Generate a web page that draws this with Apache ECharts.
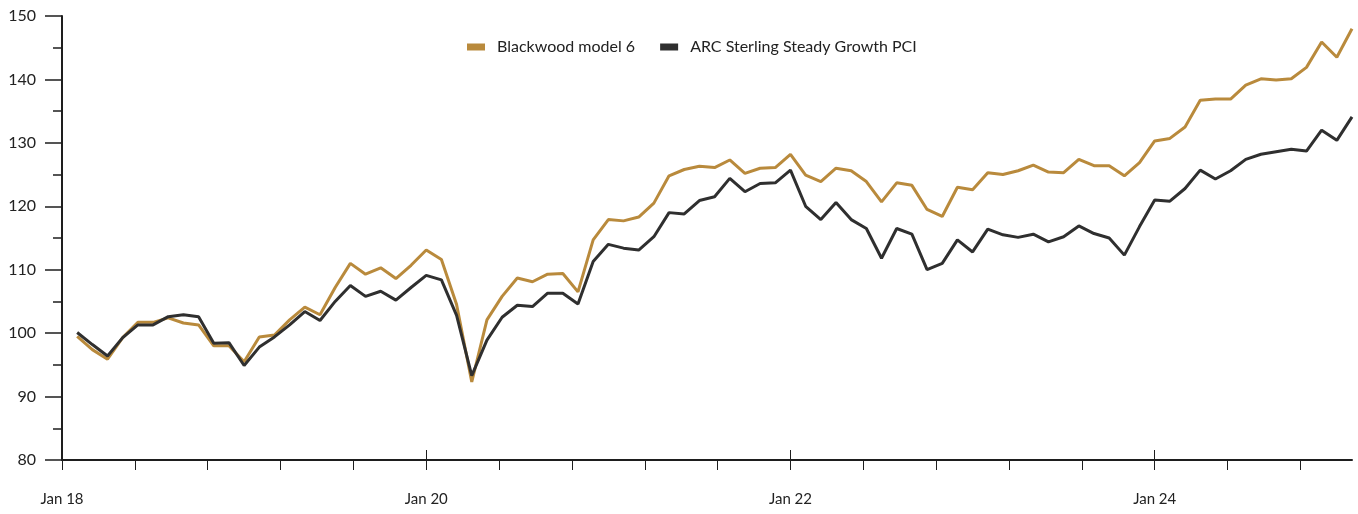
<!DOCTYPE html>
<html>
<head>
<meta charset="utf-8">
<script src="https://cdn.jsdelivr.net/npm/echarts@6/dist/echarts.min.js"></script>
<style>
html,body{margin:0;padding:0;background:#fff;}
#chart{width:1358px;height:514px;}
</style>
</head>
<body>
<div id="chart"></div>
<script>
// Monthly index values (month 1 = first month after Jan 18)
var blackwood = [99.5,97.4,95.9,99.3,101.7,101.7,102.4,101.6,101.3,98.0,98.0,95.5,99.4,99.7,102.1,104.1,102.9,107.2,111.0,109.3,110.3,108.6,110.7,113.1,111.6,104.5,92.3,102.1,105.8,108.7,108.1,109.3,109.4,106.5,114.7,117.9,117.7,118.3,120.5,124.8,125.8,126.3,126.1,127.3,125.2,126.0,126.1,128.2,124.9,123.9,126.0,125.6,123.9,120.7,123.7,123.3,119.5,118.4,123.0,122.6,125.3,125.0,125.6,126.5,125.4,125.3,127.4,126.4,126.4,124.8,126.9,130.3,130.7,132.5,136.7,136.9,136.9,139.1,140.1,139.9,140.1,141.9,145.9,143.5,148.0];
var arcSteady = [100.1,98.2,96.4,99.3,101.3,101.3,102.6,102.9,102.6,98.4,98.5,94.9,97.8,99.4,101.3,103.4,102.0,105.0,107.5,105.8,106.6,105.2,107.2,109.1,108.4,102.8,93.3,98.9,102.5,104.4,104.2,106.3,106.3,104.6,111.3,114.0,113.4,113.1,115.2,119.0,118.8,120.9,121.5,124.4,122.3,123.6,123.7,125.7,120.0,117.9,120.6,117.9,116.5,111.8,116.5,115.6,110.0,111.0,114.7,112.8,116.4,115.5,115.1,115.6,114.4,115.2,116.9,115.7,115.0,112.3,116.8,121.0,120.8,122.8,125.7,124.3,125.6,127.4,128.2,128.6,129.0,128.7,132.0,130.4,134.1];
var seriesNames = ['Blackwood model 6', 'ARC Sterling Steady Growth PCI'];
var xTickValues = [0,4.8,9.6,14.4,19.2,24,28.8,33.6,38.4,43.2,48,52.8,57.6,62.4,67.2,72,76.8,81.6];
var xLabelValues = [0,24,48,72];
var xLabelTexts = ['Jan 18','Jan 20','Jan 22','Jan 24'];
var xMajorCross = [24,48,72];

function toPairs(arr){ return arr.map(function(v,i){ return [i+1, v]; }); }

var FONT = 'Lato';
var axisColor = '#1e1e1e';
var textColor = '#222';
var chart = echarts.init(document.getElementById('chart'), null, {renderer:'canvas'});
chart.setOption({
  animation:false,
  backgroundColor:'#fff',
  textStyle:{fontFamily:FONT},
  legend:{
    left:462, top:34,
    itemWidth:18, itemHeight:7, itemGap:25,
    icon:'rect',
    textStyle:{fontFamily:FONT, fontSize:16, color:textColor, padding:[0,0,0,7]},
    data:seriesNames
  },
  grid:{left:62, right:6, top:16, bottom:54, containLabel:false},
  xAxis:[{
    type:'value', min:0, max:85,
    axisLine:{show:true, lineStyle:{color:axisColor, width:2}},
    axisTick:{show:true, inside:false, length:10, lineStyle:{color:axisColor, width:1}, customValues:xTickValues},
    axisLabel:{show:true, margin:32, fontFamily:FONT, fontSize:15, color:textColor, customValues:xLabelValues,
      formatter:function(v){ var k = xLabelValues.indexOf(Math.round(v)); return k>=0 ? xLabelTexts[k] : ''; }},
    splitLine:{show:false}
  },{
    type:'value', min:0, max:85, position:'bottom',
    axisLine:{show:false},
    axisTick:{show:true, inside:true, length:10, lineStyle:{color:axisColor, width:1}, customValues:xMajorCross},
    axisLabel:{show:false},
    splitLine:{show:false}
  }],
  yAxis:{
    type:'value', min:80, max:150, interval:10,
    axisLine:{show:true, lineStyle:{color:axisColor, width:2}},
    axisTick:{show:true, inside:false, length:17, lineStyle:{color:axisColor, width:1.5}},
    minorTick:{show:true, splitNumber:2, length:9, lineStyle:{color:axisColor, width:1.5}},
    axisLabel:{margin:26, fontFamily:FONT, fontSize:16, color:textColor},
    splitLine:{show:false}
  },
  series:[{
    name:seriesNames[0], type:'line', data:toPairs(blackwood), xAxisIndex:0,
    symbol:'none', lineStyle:{color:'#B98A3C', width:3}, itemStyle:{color:'#B98A3C'}
  },{
    name:seriesNames[1], type:'line', data:toPairs(arcSteady), xAxisIndex:0,
    symbol:'none', lineStyle:{color:'#2f2f2f', width:3}, itemStyle:{color:'#2f2f2f'}
  }]
});
</script>
</body>
</html>
